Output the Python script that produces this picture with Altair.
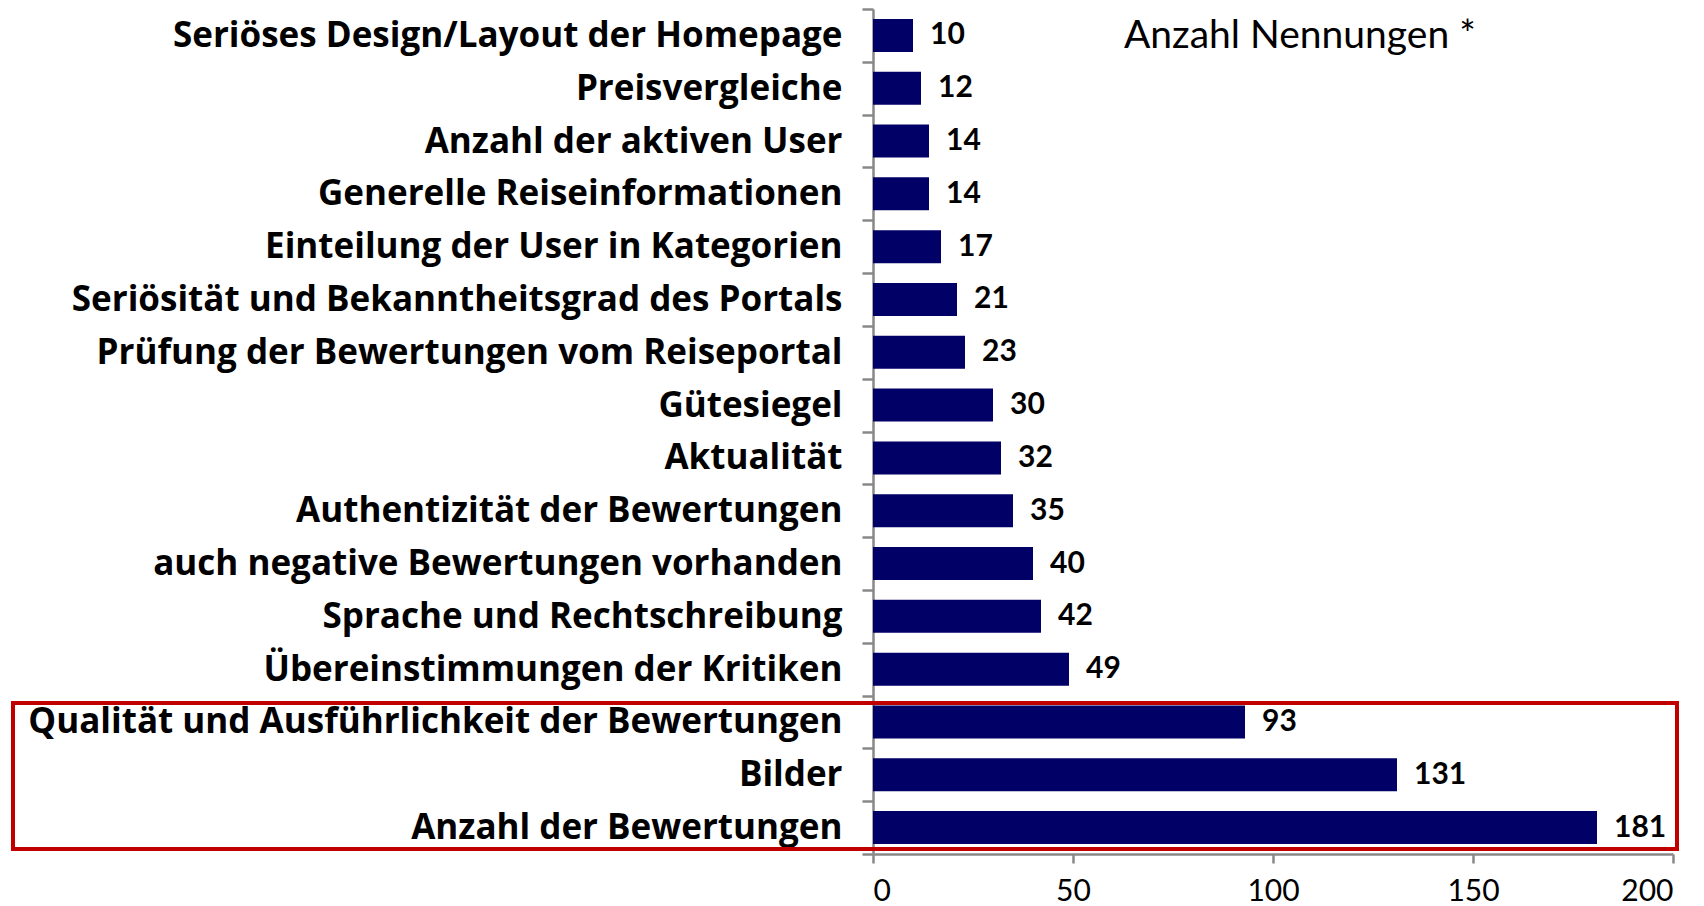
import altair as alt
import pandas as pd

categories = [
    "Seriöses Design/Layout der Homepage",
    "Preisvergleiche",
    "Anzahl der aktiven User",
    "Generelle Reiseinformationen",
    "Einteilung der User in Kategorien",
    "Seriösität und Bekanntheitsgrad des Portals",
    "Prüfung der Bewertungen vom Reiseportal",
    "Gütesiegel",
    "Aktualität",
    "Authentizität der Bewertungen",
    "auch negative Bewertungen vorhanden",
    "Sprache und Rechtschreibung",
    "Übereinstimmungen der Kritiken",
    "Qualität und Ausführlichkeit der Bewertungen",
    "Bilder",
    "Anzahl der Bewertungen",
]
values = [10, 12, 14, 14, 17, 21, 23, 30, 32, 35, 40, 42, 49, 93, 131, 181]
x_ticks = [0, 50, 100, 150, 200]
title_text = "Anzahl Nennungen *"

W = 800
H = 845
FONT = "Lato"
LABEL_FONT = "Open Sans"
GRAY = "#888888"

df = pd.DataFrame({"cat": categories, "val": values})

y_enc = alt.Y(
    "cat:N",
    sort=categories,
    scale=alt.Scale(paddingInner=0, paddingOuter=0),
    axis=alt.Axis(
        title=None,
        tickBand="extent",
        domainColor=GRAY,
        domainWidth=2.5,
        tickColor=GRAY,
        tickWidth=2.5,
        tickSize=11,
        labelFont=LABEL_FONT,
        labelFontWeight="bold",
        labelFontSize=35,
        labelColor="black",
        labelPadding=20,
        labelLimit=2000,
    ),
)
x_enc = alt.X(
    "val:Q",
    scale=alt.Scale(domain=[0, 200], nice=False),
    axis=alt.Axis(
        title=None,
        values=x_ticks,
        grid=False,
        domainColor=GRAY,
        domainWidth=2.5,
        tickColor=GRAY,
        tickWidth=2.5,
        tickSize=9,
        labelFont=FONT,
        labelFontSize=30,
        labelColor="black",
        labelPadding=13,
    ),
)

base = alt.Chart(df)
bars = base.mark_bar(size=33, color="#000066").encode(x=x_enc, y=y_enc)
labels = base.mark_text(
    align="left", baseline="middle", dx=17, font=FONT, fontWeight="bold", fontSize=30, color="black"
).encode(x="val:Q", y=alt.Y("cat:N", sort=categories), text="val:Q")

one = pd.DataFrame({"t": [title_text]})
title = alt.Chart(one).mark_text(
    align="left", baseline="alphabetic", font=FONT, fontSize=39, color="black"
).encode(x=alt.value(251), y=alt.value(39), text="t:N")

box = alt.Chart(pd.DataFrame({"a": [0]})).mark_rect(
    filled=False, stroke="#C00000", strokeWidth=4
).encode(
    x=alt.value(-860), x2=alt.value(804), y=alt.value(694), y2=alt.value(840)
)

chart = (
    alt.layer(bars, labels, title, box)
    .properties(
        width=W,
        height=H,
        autosize=alt.AutoSizeParams(type="none"),
        padding={"left": 865, "top": 1, "right": 20, "bottom": 58},
    )
    .configure_view(stroke=None)
)

chart.save("out.html", embed_options={"renderer": "svg", "actions": False})
